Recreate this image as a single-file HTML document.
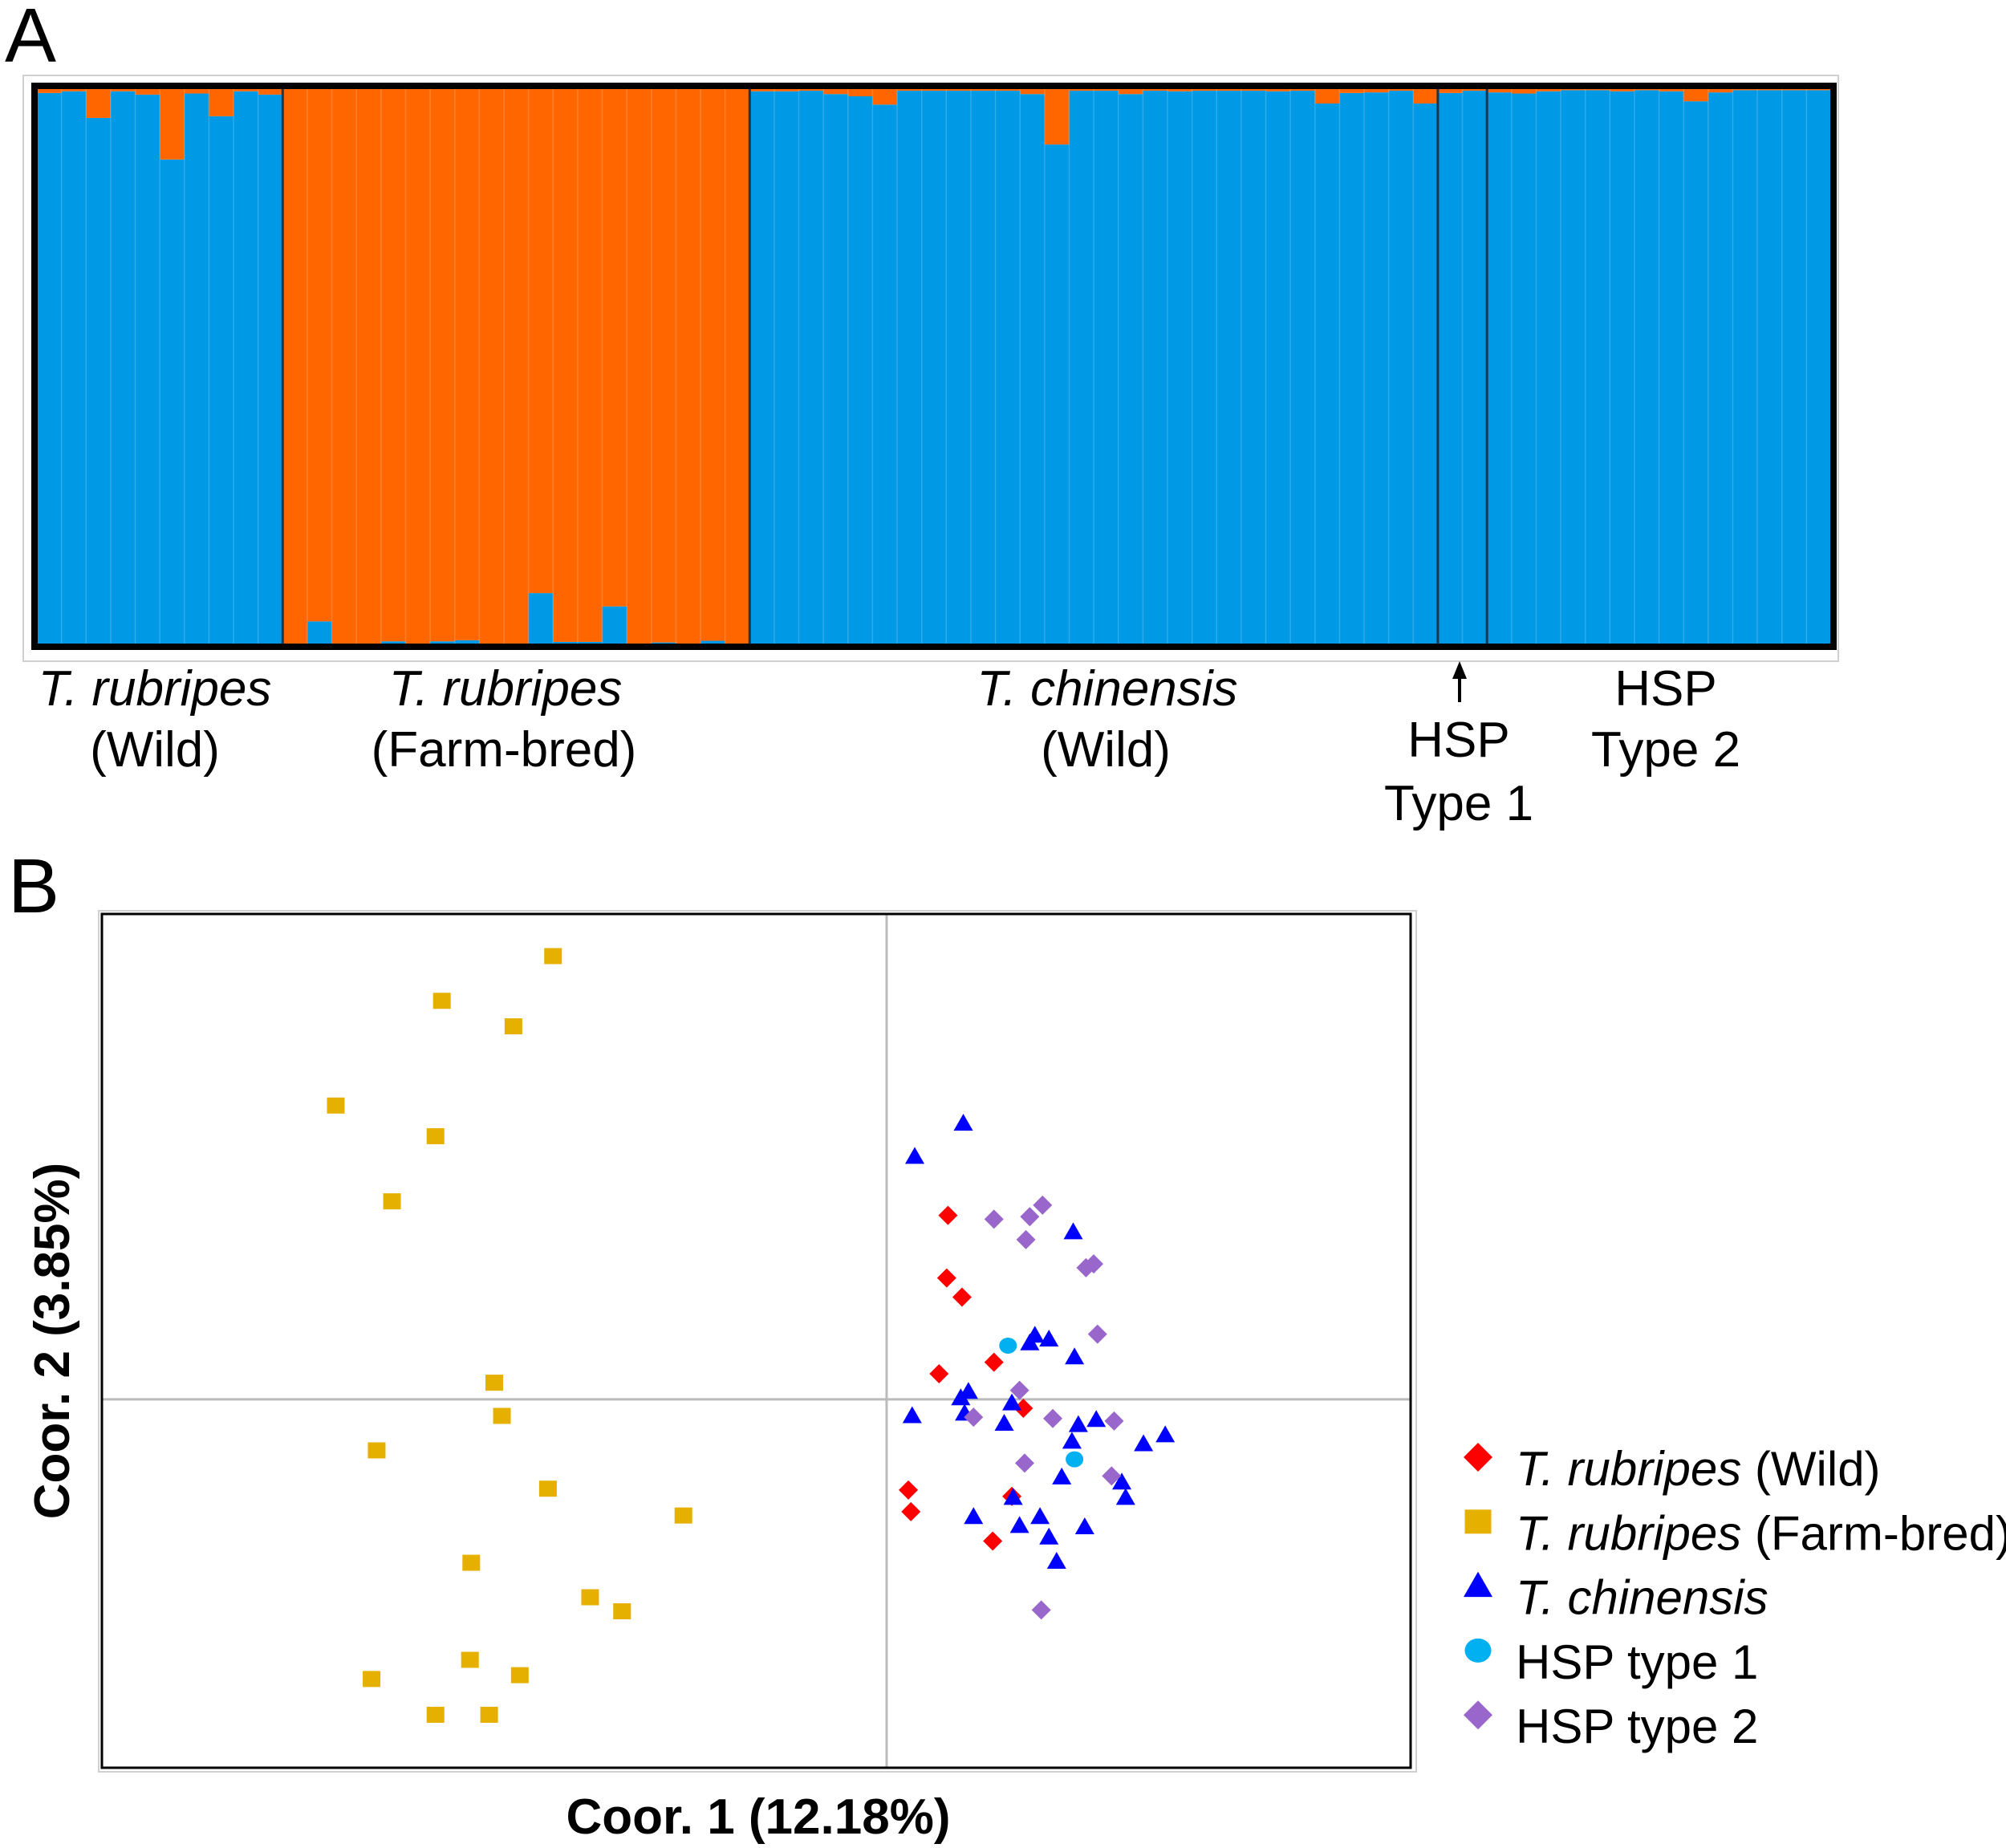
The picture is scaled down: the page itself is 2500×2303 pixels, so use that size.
<!DOCTYPE html>
<html><head><meta charset="utf-8">
<style>
html,body{margin:0;padding:0;background:#fff;}
svg{display:block;font-family:"Liberation Sans",Arial,sans-serif;}
</style></head>
<body>
<svg id="fig" width="2500" height="2303" viewBox="0 0 2500 2303" xmlns="http://www.w3.org/2000/svg">
  <text x="6" y="77" font-size="96">A</text>
  <rect x="29" y="94" width="2262" height="730" fill="none" stroke="#d0d0d0" stroke-width="2"/>
  <g id="bars"></g>
  <rect x="43" y="107" width="2242" height="699" fill="none" stroke="#000" stroke-width="8"/>
  <g font-size="62" text-anchor="middle">
    <text x="193" y="879" font-style="italic">T. rubripes</text>
    <text x="193" y="955">(Wild)</text>
    <text x="630" y="879" font-style="italic">T. rubripes</text>
    <text x="628" y="955">(Farm-bred)</text>
    <text x="1380" y="879" font-style="italic">T. chinensis</text>
    <text x="1378" y="955">(Wild)</text>
    <text x="1818" y="943">HSP</text>
    <text x="1818" y="1022">Type 1</text>
    <text x="2076" y="879">HSP</text>
    <text x="2076" y="955">Type 2</text>
  </g>
  <g>
    <line x1="1819" y1="875" x2="1819" y2="842" stroke="#000" stroke-width="4"/>
    <polygon points="1819,824 1810,846 1828,846" fill="#000"/>
  </g>

  <text x="10" y="1137" font-size="96">B</text>
  <rect x="123" y="1135" width="1642" height="1073" fill="none" stroke="#d0d0d0" stroke-width="2"/>
  <g id="scatter"></g>
  <rect x="127" y="1139" width="1631" height="1064" fill="none" stroke="#000" stroke-width="3"/>
  <text x="945" y="2285" font-size="62" font-weight="bold" text-anchor="middle">Coor. 1 (12.18%)</text>
  <text transform="translate(86,1671) rotate(-90)" font-size="62" font-weight="bold" text-anchor="middle">Coor. 2 (3.85%)</text>
  <g id="legend"></g>
</svg>
<script>
// ---------- Panel A data ----------
const groupNames = ["rubripes-wild","rubripes-farm","chinensis","hsp-type1","hsp-type2"];
const orangeWild = [0.007,0.004,0.052,0.004,0.01,0.127,0.008,0.049,0.004,0.01];
const blueFarm = [0,0.04,0,0,0.004,0,0.004,0.006,0,0,0.091,0.003,0.003,0.067,0,0.002,0,0.005,0];
const orangeChinensis = [0.004,0.004,0.003,0.009,0.013,0.028,0.003,0.003,0.003,0.003,0.003,0.009,0.1,0.003,0.003,0.009,0.003,0.004,0.003,0.003,0.003,0.004,0.003,0.026,0.007,0.006,0.003,0.026];
const orangeHsp1 = [0.007,0.003];
const orangeHsp2 = [0.006,0.008,0.004,0.002,0.002,0.004,0.002,0.004,0.022,0.006,0.002,0.002,0.002,0.002];

// ---------- Panel B data ----------
const wildX = [0.48,0.47,0.59,0.84,0.41,1.07,0.17,0.19,0.98,0.83];
const wildY = [1.44,0.95,0.80,0.29,0.20,-0.07,-0.71,-0.88,-0.76,-1.11];
const farmX = [-2.61,-3.48,-2.92,-4.31,-3.53,-3.87,-3.07,-3.01,-3.99,-2.65,-1.59,-3.25,-2.32,-2.07,-4.03,-3.26,-2.87,-3.53,-3.11];
const farmY = [3.47,3.12,2.92,2.30,2.06,1.55,0.13,-0.13,-0.40,-0.70,-0.91,-1.28,-1.55,-1.66,-2.19,-2.04,-2.16,-2.47,-2.47];
const chinX = [0.60,0.22,1.46,1.16,1.27,1.12,1.47,0.64,0.58,0.98,0.61,0.20,0.92,1.50,1.64,1.45,2.01,2.18,1.37,1.84,1.87,0.99,0.68,1.20,1.04,1.55,1.27,1.33];
const chinY = [2.16,1.90,1.31,0.50,0.47,0.44,0.33,0.06,0.01,-0.03,-0.11,-0.13,-0.19,-0.20,-0.16,-0.33,-0.35,-0.28,-0.61,-0.65,-0.77,-0.77,-0.92,-0.92,-0.99,-1.00,-1.08,-1.27];
const hsp1X = [0.95,1.47];
const hsp1Y = [0.42,-0.47];
const hsp2X = [0.84,1.12,1.22,1.09,1.56,1.62,1.65,1.04,0.68,1.30,1.78,1.08,1.76,1.21];
const hsp2Y = [1.41,1.43,1.52,1.25,1.03,1.06,0.51,0.07,-0.14,-0.15,-0.17,-0.50,-0.60,-1.65];
const legendLabels = [["T. rubripes"," (Wild)"],["T. rubripes"," (Farm-bred)"],["T. chinensis",""],["","HSP type 1"],["","HSP type 2"]];

const NS = "http://www.w3.org/2000/svg";
function mk(tag, attrs, parent){ const e=document.createElementNS(NS,tag); for(const k in attrs) e.setAttribute(k,attrs[k]); parent.appendChild(e); return e; }

// ---------- draw bars ----------
const BLUE="#0099e5", ORANGE="#ff6600";
const plotL=46, plotR=2282, plotT=111, plotB=802;
const allOrange = [].concat(orangeWild, blueFarm.map(b=>1-b), orangeChinensis, orangeHsp1, orangeHsp2);
const groupSizes = [orangeWild.length, blueFarm.length, orangeChinensis.length, orangeHsp1.length, orangeHsp2.length];
const n = allOrange.length;
const bw = (plotR-plotL)/n;
const yA = v => plotT + v*(plotB-plotT);
const barsG = document.getElementById('bars');
allOrange.forEach((o,i)=>{
  const x = plotL + i*bw;
  const blue = mk('rect',{x:x,y:yA(o),width:bw+0.5,height:plotB-yA(o),fill:BLUE},barsG);
  
  
  const or = mk('rect',{x:x,y:plotT,width:bw+0.5,height:yA(o)-plotT,fill:ORANGE},barsG);
  
  
  if(i>0){
    const sep = mk('line',{x1:x,y1:plotT,x2:x,y2:plotB,stroke:"rgba(255,255,255,0.18)","stroke-width":1.5},barsG);
    
    
  }
});
let acc=0;
groupSizes.slice(0,-1).forEach((s,gi)=>{
  acc+=s;
  const x = plotL + acc*bw;
  const gl = mk('line',{x1:x,y1:plotT,x2:x,y2:plotB,stroke:"#1a3550","stroke-width":3},barsG);
  
  
});

// ---------- scatter ----------
const sL=127, sR=1758, sT=1139, sB=2203;
const xDom=[-6.14,4.10], yDom=[-2.885,3.80];
const sx = v => sL + (v-xDom[0])/(xDom[1]-xDom[0])*(sR-sL);
const sy = v => sB - (v-yDom[0])/(yDom[1]-yDom[0])*(sB-sT);
const sc = document.getElementById('scatter');
const vx = mk('line',{x1:sx(0),y1:sT,x2:sx(0),y2:sB,stroke:"#bbb","stroke-width":3},sc);


const hz = mk('line',{x1:sL,y1:sy(0),x2:sR,y2:sy(0),stroke:"#bbb","stroke-width":3},sc);



function marker(type, cx, cy, parent, k){
  k = k || 1;
  const d=12*k;
  let e;
  if(type==='diamond-red') e=mk('polygon',{points:`${cx},${cy-d} ${cx+d},${cy} ${cx},${cy+d} ${cx-d},${cy}`,fill:"#ff0000"},parent);
  else if(type==='diamond-purple') e=mk('polygon',{points:`${cx},${cy-d} ${cx+d},${cy} ${cx},${cy+d} ${cx-d},${cy}`,fill:"#9966cc"},parent);
  else if(type==='square') e=mk('rect',{x:cx-11*k,y:cy-10*k,width:22*k,height:20*k,fill:"#e6b000"},parent);
  else if(type==='triangle') e=mk('polygon',{points:`${cx},${cy-12*k} ${cx+12*k},${cy+9*k} ${cx-12*k},${cy+9*k}`,fill:"#0000ff"},parent);
  else e=mk('ellipse',{cx:cx,cy:cy,rx:11*k,ry:10*k,fill:"#00b0f0"},parent);
  return e;
}
const series = [
  ['diamond-red',wildX,wildY,'point-rubripes-wild'],
  ['square',farmX,farmY,'point-rubripes-farm'],
  ['triangle',chinX,chinY,'point-chinensis'],
  ['diamond-purple',hsp2X,hsp2Y,'point-hsp-type2'],
  ['circle',hsp1X,hsp1Y,'point-hsp-type1']
];
series.forEach(s=>{
  s[1].forEach((v,i)=>{
    const e = marker(s[0], sx(v), sy(s[2][i]), sc);
    
    
  });
});

// ---------- legend ----------
const lg = document.getElementById('legend');
const legTypes = ['diamond-red','square','triangle','circle','diamond-purple'];
const legY0 = 1830, legDY = 80.3;
legendLabels.forEach((lab,i)=>{
  const y = legY0 + i*legDY;
  const m = marker(legTypes[i], 1842, y-14, lg, 1.5);
  
  
  const t = mk('text',{x:1889,y:y+21,"font-size":60},lg);
  
  
  if(lab[0]){ const it=mk('tspan',{"font-style":"italic"},t); it.textContent=lab[0]; }
  if(lab[1]){ const nt=mk('tspan',{},t); nt.textContent=lab[1]; }
});
</script>
</body></html>
